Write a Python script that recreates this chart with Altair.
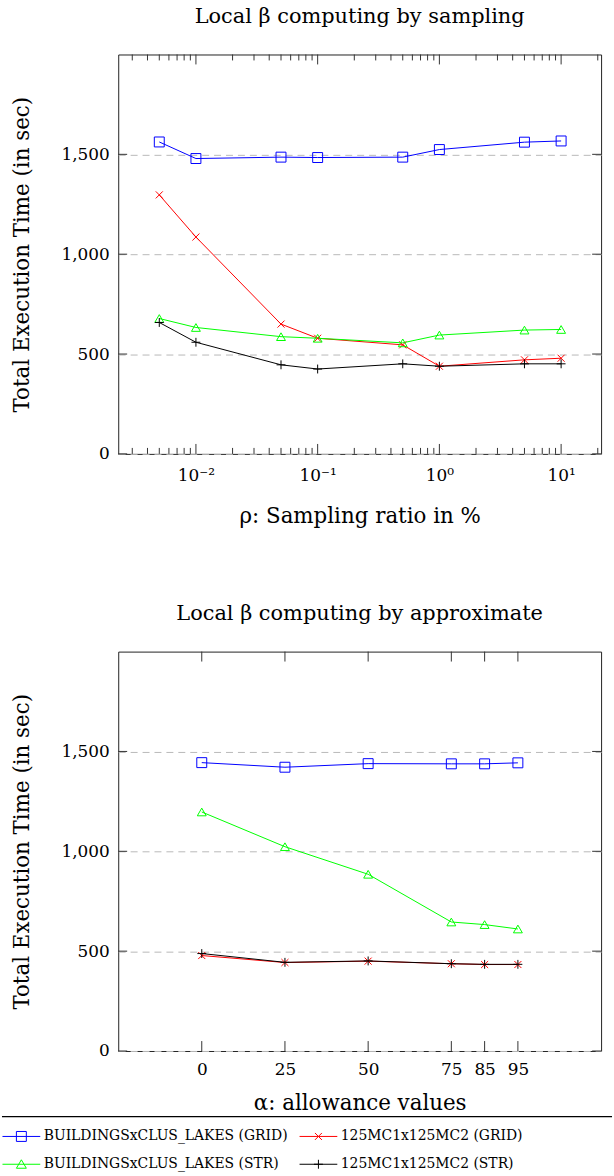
import altair as alt
import pandas as pd

# ---------------- data ----------------
series = [
    "BUILDINGSxCLUS_LAKES (GRID)",
    "125MC1x125MC2 (GRID)",
    "BUILDINGSxCLUS_LAKES (STR)",
    "125MC1x125MC2 (STR)",
]
colors = ["#0000ff", "#ff0000", "#00ff00", "#000000"]

# top panel: sampling ratio (%)
rho = [0.005, 0.01, 0.05, 0.1, 0.5, 1, 5, 10]
samp_bld_grid = [1562, 1479, 1486, 1484, 1486, 1524, 1561, 1567]
samp_mc_grid = [1297, 1086, 650, 579, 546, 439, 471, 479]
samp_bld_str = [678, 633, 587, 579, 556, 595, 620, 623]
samp_mc_str = [658, 559, 446, 425, 451, 439, 451, 451]

# bottom panel: allowance values
alpha = [0, 25, 50, 75, 85, 95]
appr_bld_grid = [1444, 1421, 1439, 1438, 1438, 1443]
appr_mc_grid = [478, 443, 450, 437, 433, 433]
appr_bld_str = [1197, 1023, 885, 646, 633, 611]
appr_mc_str = [488, 444, 451, 437, 434, 434]

y_ticks = [0, 500, 1000, 1500]
x_major_top = [0.01, 0.1, 1, 10]
x_minor_top = [0.003, 0.004, 0.005, 0.006, 0.007, 0.008, 0.009,
               0.02, 0.03, 0.04, 0.05, 0.06, 0.07, 0.08, 0.09,
               0.2, 0.3, 0.4, 0.5, 0.6, 0.7, 0.8, 0.9,
               2, 3, 4, 5, 6, 7, 8, 9, 20]
x_major_bot = [0, 25, 50, 75, 85, 95]


def long_df(xs, cols):
    rows = []
    for name, vals in zip(series, cols):
        for x, v in zip(xs, vals):
            rows.append({"x": x, "y": v, "series": name})
    return pd.DataFrame(rows)


top_df = long_df(rho, [samp_bld_grid, samp_mc_grid, samp_bld_str, samp_mc_str])
bot_df = long_df(alpha, [appr_bld_grid, appr_mc_grid, appr_bld_str, appr_mc_str])

FONT = "DejaVu Serif"
W, H = 486, 402

marker_shapes = ["square", "M-1,-1L1,1M-1,1L1,-1", "triangle-up", "M-1,0H1M0,-1V1"]
marker_sizes = [100, 50, 80, 80]

legend_paths = [
    "M-3.8,0H3.8M-1,-1H1V1H-1Z",
    "M-3.8,0H3.8M-0.7,-0.7L0.7,0.7M-0.7,0.7L0.7,-0.7",
    "M-3.8,0H3.8M0,-0.9L1,0.8H-1Z",
    "M-3.8,0H3.8M0,-0.9V0.9M-0.9,0H0.9",
]
legend_expr = " : ".join(
    [f"datum.value === '{s}' ? '{p}'" for s, p in zip(series[:-1], legend_paths[:-1])]
    + [f"'{legend_paths[-1]}'"]
)

# legend fills column by column: blue, green | red, black
legend_order = [series[0], series[2], series[1], series[3]]
color_scale = alt.Scale(domain=legend_order,
                        range=[colors[0], colors[2], colors[1], colors[3]])


def panel(df, xscale, xaxis, xtitle, title, major, minor, with_rule):
    x_enc = alt.X("x:Q", scale=xscale, axis=xaxis, title=xtitle)
    y_axis = alt.Axis(values=y_ticks, format=",.0f", grid=True, gridDash=[7, 5],
                      gridColor="#b8b8b8", ticks=False, domain=False,
                      labelPadding=9, titlePadding=28)
    y_enc = alt.Y("y:Q", scale=alt.Scale(domain=[0, 2000], nice=False),
                  axis=y_axis, title="Total Execution Time (in sec)")
    legend = alt.Legend(
        title=None, orient="none", columns=2,
        legendX=-117, legendY=1076,
        symbolType={"expr": legend_expr},
    )
    lines = alt.Chart(df).mark_line(strokeWidth=1).encode(
        x=x_enc, y=y_enc,
        color=alt.Color("series:N", scale=color_scale, legend=legend),
        detail="series:N",
    )
    layers = [lines]
    for s, shp, sz in zip(series, marker_shapes, marker_sizes):
        layers.append(
            alt.Chart(df).transform_filter(alt.datum.series == s)
            .mark_point(filled=False, strokeWidth=1, opacity=1, shape=shp, size=sz)
            .encode(
                x=x_enc, y=y_enc,
                color=alt.Color("series:N", scale=color_scale, legend=None),
            )
        )
    # inward ticks (pgfplots style), positioned by the axis scales
    ydf = pd.DataFrame({"y": y_ticks})
    layers.append(alt.Chart(ydf).mark_rule(color="#333", strokeWidth=1).encode(
        y=y_enc, x=alt.value(0), x2=alt.value(9)))
    layers.append(alt.Chart(ydf).mark_rule(color="#333", strokeWidth=1).encode(
        y=y_enc, x=alt.value(W - 9), x2=alt.value(W)))
    mdf = pd.DataFrame({"x": major})
    layers.append(alt.Chart(mdf).mark_rule(color="#333", strokeWidth=1).encode(
        x=x_enc, y=alt.value(H), y2=alt.value(H - 10)))
    layers.append(alt.Chart(mdf).mark_rule(color="#333", strokeWidth=1).encode(
        x=x_enc, y=alt.value(0), y2=alt.value(10)))
    if minor:
        ndf = pd.DataFrame({"x": minor})
        layers.append(alt.Chart(ndf).mark_rule(color="#333", strokeWidth=1).encode(
            x=x_enc, y=alt.value(H), y2=alt.value(H - 6)))
        layers.append(alt.Chart(ndf).mark_rule(color="#333", strokeWidth=1).encode(
            x=x_enc, y=alt.value(0), y2=alt.value(6)))
    if with_rule:
        # separator line above the legend box
        layers.append(alt.Chart(pd.DataFrame({"k": [0]})).mark_rule(
            color="#000", strokeWidth=1.2).encode(
            x=alt.value(-117), x2=alt.value(W + 11), y=alt.value(H + 66)))
    return alt.layer(*layers).properties(
        width=W, height=H,
        title=alt.Title(title, frame="group", anchor="middle", fontSize=21,
                        font=FONT, fontWeight="normal", offset=27, color="#000"),
    )


top_scale = alt.Scale(type="log", domain=[0.0023, 21.3], nice=False)
top_axis = alt.Axis(values=x_major_top, ticks=False, domain=False, grid=False,
                    labelPadding=14, titlePadding=22,
                    labelExpr="datum.value < 0.05 ? '10⁻²' : datum.value < 0.5 ? '10⁻¹' : datum.value < 5 ? '10⁰' : '10¹'")
top = panel(top_df, top_scale, top_axis, "ρ: Sampling ratio in %",
            "Local β computing by sampling", x_major_top, x_minor_top, False)

bot_scale = alt.Scale(domain=[-25.1, 120], nice=False, zero=False)
bot_axis = alt.Axis(values=x_major_bot, ticks=False, domain=False, grid=False,
                    labelPadding=11, titlePadding=15)
bot = panel(bot_df, bot_scale, bot_axis, "α: allowance values",
            "Local β computing by approximate", x_major_bot, None, True)

chart = alt.vconcat(top, bot, spacing=76).configure(
    font=FONT,
    padding={"left": 0, "right": 0, "top": 2, "bottom": 0},
).configure_view(
    stroke="#222", strokeWidth=1
).configure_axis(
    labelFont=FONT, titleFont=FONT, labelFontSize=17, titleFontSize=21.5,
    labelColor="#000", titleColor="#000", titleFontWeight="normal",
).configure_legend(
    labelFont=FONT, labelFontSize=14, labelColor="#000",
    symbolSize=100, symbolStrokeWidth=1, labelOffset=15.5, symbolOffset=6.5,
    columnPadding=9, rowPadding=14, labelLimit=400, padding=6,
)

chart.save("out.html", embed_options={"renderer": "svg", "actions": False})
